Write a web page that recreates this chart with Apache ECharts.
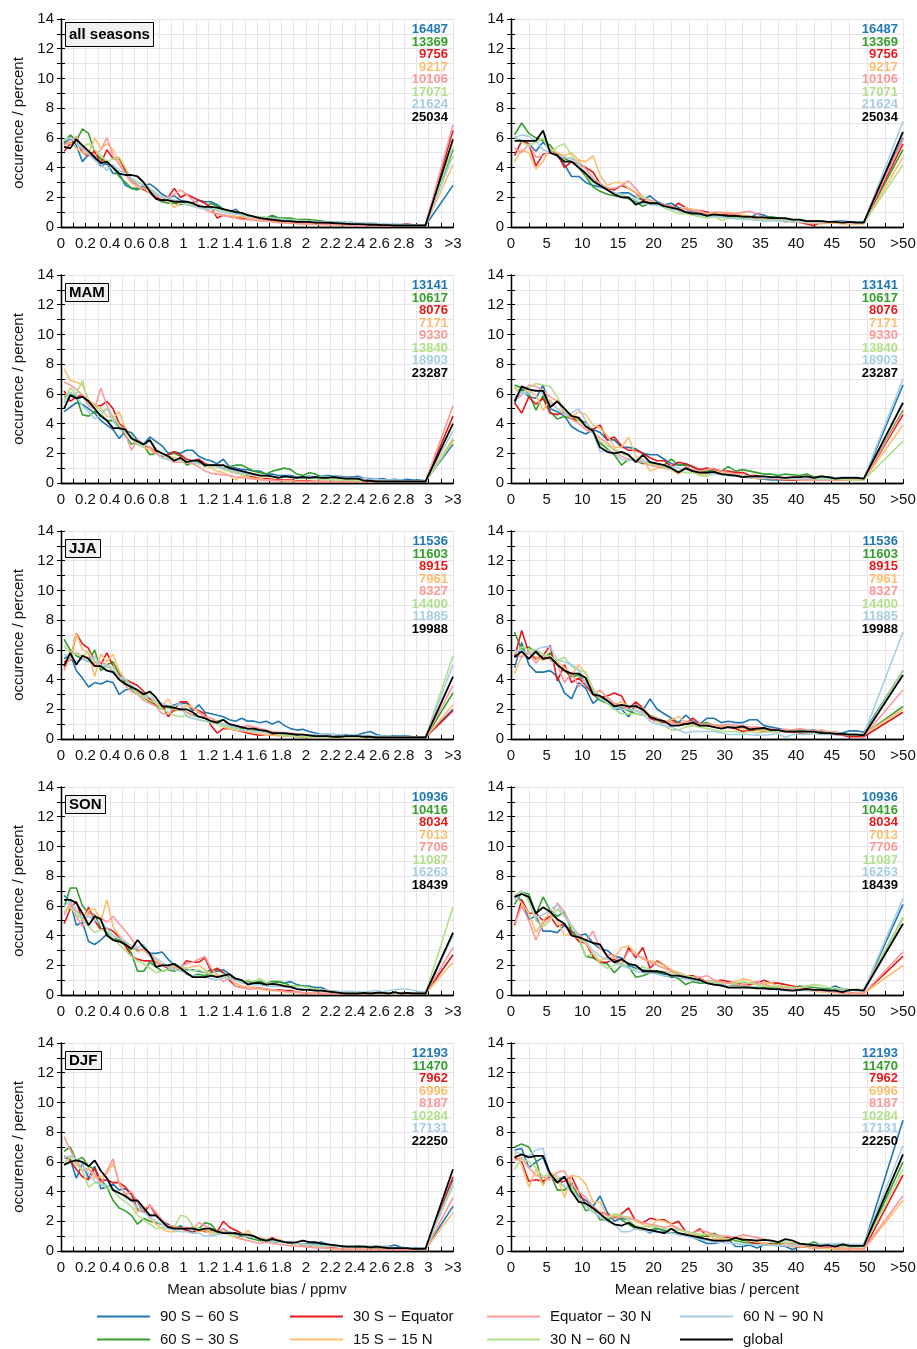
<!DOCTYPE html>
<html>
<head>
<meta charset="utf-8">
<script src="https://cdn.jsdelivr.net/npm/echarts@6/dist/echarts.min.js"></script>
<style>
  html, body { margin: 0; padding: 0; background: #fff; }
  #main { width: 917px; height: 1349px; }
</style>
</head>
<body>
<div id="main"></div>
<script>
// regions, in drawing order (global last, on top)
const regions = ['90 S \u2212 60 S', '60 S \u2212 30 S', '30 S \u2212 Equator', '15 S \u2212 15 N',
                 'Equator \u2212 30 N', '30 N \u2212 60 N', '60 N \u2212 90 N', 'global'];
const colors = ['#1f78b4', '#33a02c', '#e31a1c', '#fdbf6f', '#fb9a99', '#b2df8a', '#a6cee3', '#000000'];
const seasons = ['all seasons', 'MAM', 'JJA', 'SON', 'DJF'];

// number of profiles per region (same order as regions)
const countsAll = [16487, 13369, 9756, 9217, 10106, 17071, 21624, 25034];
const countsMAM = [13141, 10617, 8076, 7171, 9330, 13840, 18903, 23287];
const countsJJA = [11536, 11603, 8915, 7961, 8327, 14400, 11885, 19988];
const countsSON = [10936, 10416, 8034, 7013, 7706, 11087, 16263, 18439];
const countsDJF = [12193, 11470, 7962, 6996, 8187, 10284, 17131, 22250];

const absTickLabels = ['0','0.2','0.4','0.6','0.8','1','1.2','1.4','1.6','1.8','2','2.2','2.4','2.6','2.8','3','>3'];
const relTickLabels = ['0','5','10','15','20','25','30','35','40','45','50','>50'];

// bins: absolute bias 0.05 ppmv wide, relative bias 1 percent wide; last value = overflow bin
const absBinWidth = 0.05, absOverflowAt = 3.2;
const relBinWidth = 1, relOverflowAt = 55;

// ---- mean absolute bias, occurrence in percent ----
const absAllSeasons = [
  [5.6,6.0,5.5,4.4,4.9,4.6,4.1,4.3,3.6,3.6, 2.8,2.6,2.6,2.8,2.9,2.6,2.2,2.0,2.1,1.8, 1.7,1.6,1.8,1.7,1.7,1.5,1.2,1.0,1.2,0.8, 0.8,0.7,0.65,0.6,0.7,0.6,0.5,0.5,0.4,0.4, 0.35,0.3,0.3,0.3,0.3,0.3,0.25,0.3,0.25,0.2, 0.2,0.2,0.2,0.15,0.15,0.15,0.15,0.1,0.1,0.1, 2.8],
  [5.7,6.2,5.8,6.6,6.3,5.0,4.6,4.4,4.0,3.4, 3.0,2.6,2.5,2.7,2.3,1.9,1.7,1.6,1.6,1.5, 1.6,1.5,1.4,1.3,1.6,1.4,1.2,1.0,1.0,0.9, 0.8,0.7,0.6,0.6,0.8,0.6,0.6,0.6,0.5,0.5, 0.5,0.45,0.4,0.35,0.3,0.3,0.3,0.3,0.25,0.25, 0.2,0.2,0.2,0.15,0.15,0.1,0.1,0.1,0.1,0.1, 5.2],
  [5.1,5.6,5.9,5.0,4.8,5.1,4.3,5.2,4.6,4.6, 3.8,3.2,2.8,2.5,2.3,2.0,1.8,2.0,2.6,2.0, 2.2,2.0,1.8,1.6,1.3,0.6,0.8,0.7,0.7,0.6, 0.5,0.5,0.5,0.45,0.4,0.35,0.3,0.3,0.3,0.25, 0.25,0.2,0.2,0.2,0.2,0.15,0.15,0.15,0.15,0.1, 0.1,0.1,0.1,0.1,0.1,0.15,0.2,0.15,0.1,0.1, 6.5],
  [5.5,5.7,5.3,5.0,4.9,6.0,5.3,5.6,5.2,4.4, 3.5,3.0,2.7,2.6,2.3,2.1,2.0,1.8,1.3,1.6, 1.6,1.5,1.3,1.2,1.0,0.9,0.8,0.75,0.7,0.7, 0.6,0.5,0.5,0.4,0.35,0.3,0.3,0.25,0.2,0.2, 0.2,0.2,0.15,0.15,0.15,0.15,0.1,0.1,0.1,0.1, 0.1,0.1,0.1,0.1,0.1,0.1,0.1,0.1,0.1,0.1, 4.2],
  [5.5,5.8,6.1,5.3,5.0,4.8,5.2,6.0,4.8,4.2, 3.6,3.0,2.8,2.6,2.4,2.1,2.0,2.0,2.2,2.5, 2.2,1.8,1.5,1.2,1.0,0.9,0.8,0.7,0.6,0.5, 0.5,0.45,0.4,0.4,0.35,0.3,0.3,0.25,0.25,0.2, 0.2,0.2,0.2,0.15,0.15,0.15,0.15,0.1,0.1,0.1, 0.1,0.1,0.1,0.1,0.1,0.1,0.1,0.1,0.1,0.1, 6.9],
  [5.8,6.0,5.7,5.4,5.6,5.2,4.8,4.4,4.6,4.7, 4.0,3.2,2.9,3.0,2.6,2.3,2.0,1.9,1.8,1.7, 1.6,1.5,1.4,1.3,1.2,1.2,1.1,1.0,0.9,0.9, 0.8,0.7,0.7,0.65,0.6,0.55,0.5,0.5,0.45,0.4, 0.4,0.35,0.35,0.3,0.3,0.3,0.25,0.3,0.25,0.2, 0.2,0.2,0.2,0.15,0.15,0.15,0.15,0.1,0.1,0.1, 5.4],
  [5.9,6.0,5.7,5.2,4.9,4.5,4.2,3.8,4.2,3.8, 3.6,3.3,3.0,2.8,2.5,2.2,2.0,1.9,1.8,1.6, 1.5,1.4,1.3,1.2,1.2,1.1,1.0,0.9,0.9,0.8, 0.7,0.7,0.6,0.6,0.55,0.5,0.5,0.45,0.4,0.4, 0.4,0.35,0.35,0.35,0.3,0.35,0.3,0.3,0.3,0.25, 0.3,0.25,0.2,0.2,0.2,0.2,0.15,0.15,0.15,0.15, 4.8],
  [5.4,5.3,5.9,5.5,5.1,4.7,4.3,4.4,4.0,3.6, 3.5,3.5,3.4,3.0,2.4,1.9,1.8,1.8,1.7,1.7, 1.7,1.6,1.4,1.35,1.35,1.3,1.2,1.1,1.0,0.95, 0.8,0.7,0.6,0.55,0.5,0.45,0.4,0.4,0.35,0.35, 0.35,0.3,0.3,0.3,0.27,0.25,0.22,0.2,0.2,0.18, 0.15,0.15,0.12,0.12,0.1,0.1,0.1,0.1,0.1,0.1, 5.9]
];
const absMAM = [
  [4.8,5.1,5.4,5.3,5.0,4.7,4.2,3.9,3.6,3.0, 3.5,3.4,2.9,2.6,3.1,2.8,2.5,2.0,2.1,2.0, 2.2,2.2,1.8,1.6,1.5,1.3,1.6,1.1,1.0,0.9, 0.9,0.8,0.8,0.6,0.6,0.5,0.5,0.5,0.4,0.4, 0.45,0.4,0.45,0.5,0.45,0.45,0.4,0.4,0.45,0.3, 0.3,0.25,0.3,0.2,0.25,0.2,0.25,0.2,0.2,0.15, 2.6],
  [5.8,6.0,5.8,4.6,4.5,4.8,4.6,4.2,4.2,3.8, 3.2,2.6,2.8,2.5,1.9,2.0,1.9,1.9,2.0,1.8, 1.2,1.4,1.4,1.1,1.2,1.2,1.0,1.1,1.2,1.2, 1.0,0.8,0.7,0.6,0.8,0.9,1.0,0.9,0.6,0.5, 0.7,0.6,0.4,0.4,0.35,0.3,0.25,0.2,0.2,0.15, 0.15,0.15,0.1,0.1,0.1,0.1,0.1,0.1,0.1,0.1, 2.9],
  [6.2,5.5,5.8,5.9,5.4,5.2,5.2,5.5,5.0,4.0, 3.7,3.1,2.6,2.5,2.4,2.1,1.8,1.9,2.1,1.9, 1.6,1.5,1.6,1.3,1.2,1.1,1.0,0.8,0.7,0.6, 0.5,0.4,0.3,0.3,0.25,0.2,0.2,0.2,0.15,0.15, 0.15,0.1,0.1,0.1,0.1,0.1,0.1,0.1,0.1,0.1, 0.1,0.1,0.1,0.1,0.1,0.1,0.1,0.1,0.1,0.1, 4.5],
  [7.7,6.9,6.8,6.6,5.6,5.3,5.0,4.5,4.4,4.8, 3.7,3.0,2.6,2.4,2.2,2.0,1.9,1.8,1.7,1.6, 1.5,1.4,1.3,1.2,1.0,0.8,0.7,0.5,0.2,0.5, 0.4,0.3,0.3,0.2,0.2,0.15,0.15,0.15,0.1,0.1, 0.1,0.1,0.1,0.1,0.1,0.1,0.1,0.1,0.1,0.1, 0.1,0.1,0.1,0.1,0.1,0.1,0.1,0.1,0.1,0.1, 3.0],
  [6.8,6.6,6.3,5.9,5.2,5.0,6.4,5.2,4.4,3.9, 3.3,2.2,2.9,2.6,2.4,2.0,1.7,1.6,1.4,1.4, 1.4,1.3,1.1,0.8,0.65,0.6,0.55,0.5,0.4,0.35, 0.3,0.25,0.2,0.2,0.15,0.15,0.1,0.1,0.1,0.1, 0.1,0.1,0.1,0.1,0.1,0.1,0.1,0.1,0.1,0.1, 0.1,0.1,0.1,0.1,0.1,0.1,0.1,0.1,0.1,0.1, 5.2],
  [5.6,6.4,6.0,6.9,5.3,5.2,4.8,5.0,4.4,3.9, 3.5,3.2,2.6,2.4,2.9,2.3,1.9,1.7,1.6,1.5, 1.4,1.4,1.3,1.2,1.1,1.1,0.9,0.8,0.7,0.6, 0.55,0.5,0.5,0.45,0.4,0.35,0.4,0.35,0.3,0.3, 0.3,0.3,0.25,0.25,0.2,0.2,0.2,0.2,0.15,0.15, 0.15,0.1,0.1,0.1,0.1,0.1,0.1,0.1,0.1,0.1, 2.8],
  [5.4,6.1,5.9,5.2,4.8,4.3,4.6,5.0,4.2,3.6, 3.5,3.0,2.7,2.5,2.8,2.3,1.7,1.6,1.5,1.6, 1.5,1.4,1.3,1.2,1.2,1.1,1.0,0.9,0.8,0.7, 0.6,0.55,0.5,0.5,0.45,0.4,0.4,0.4,0.35,0.35, 0.4,0.35,0.4,0.4,0.35,0.4,0.35,0.3,0.3,0.3, 0.25,0.25,0.2,0.2,0.2,0.2,0.15,0.15,0.15,0.15, 3.5],
  [5.0,5.9,5.7,5.8,5.5,5.0,4.5,4.2,3.7,3.7, 3.6,3.0,2.8,2.6,2.9,2.2,2.0,1.8,1.5,1.7, 1.4,1.5,1.5,1.2,1.2,1.2,1.2,1.0,0.9,0.8, 0.7,0.6,0.5,0.5,0.45,0.35,0.45,0.4,0.35,0.4, 0.35,0.4,0.35,0.35,0.4,0.35,0.3,0.3,0.3,0.15, 0.15,0.1,0.1,0.1,0.1,0.1,0.1,0.1,0.1,0.1, 4.0]
];
const absJJA = [
  [5.4,5.7,4.6,4.1,3.5,3.8,3.7,3.9,3.8,3.0, 3.3,3.4,3.0,2.8,2.6,2.4,2.2,2.1,2.3,2.4, 2.4,1.9,2.3,1.8,1.7,1.6,1.5,1.3,1.2,1.4, 1.2,1.2,1.1,1.2,1.0,1.2,0.9,0.7,0.6,0.65, 0.5,0.4,0.3,0.3,0.3,0.25,0.3,0.25,0.3,0.4, 0.5,0.3,0.2,0.2,0.2,0.2,0.2,0.15,0.15,0.15, 2.0],
  [6.7,6.0,5.6,5.4,5.2,6.0,4.6,5.0,5.2,4.4, 3.8,3.4,3.2,2.8,2.5,2.3,2.0,2.2,1.9,2.0, 1.8,1.6,1.5,1.4,1.2,1.2,1.3,0.9,0.8,0.7, 0.6,0.6,0.5,0.5,0.4,0.35,0.3,0.3,0.25,0.1, 0.2,0.2,0.15,0.15,0.1,0.1,0.15,0.15,0.1,0.1, 0.1,0.1,0.1,0.1,0.1,0.1,0.1,0.1,0.1,0.1, 3.1],
  [5.2,5.3,7.1,6.4,6.1,5.2,5.0,5.8,4.9,4.3, 4.0,3.8,3.6,3.2,2.7,2.3,2.3,1.5,2.0,2.5, 2.5,2.0,1.9,1.7,0.9,0.4,0.7,0.7,0.6,0.5, 0.4,0.3,0.25,0.3,0.3,0.25,0.2,0.2,0.15,0.15, 0.1,0.1,0.1,0.1,0.1,0.1,0.1,0.1,0.1,0.1, 0.1,0.1,0.1,0.1,0.1,0.1,0.1,0.1,0.1,0.1, 1.9],
  [4.8,5.4,7.1,6.0,5.8,4.2,5.7,5.2,5.7,4.6, 4.0,3.6,3.2,2.8,2.6,2.4,2.2,2.7,2.0,1.9, 2.3,2.1,1.8,1.5,1.2,1.0,0.8,0.7,0.6,0.55, 0.5,0.4,0.35,0.3,0.25,0.2,0.2,0.2,0.15,0.15, 0.1,0.1,0.1,0.1,0.1,0.1,0.1,0.1,0.1,0.1, 0.15,0.1,0.1,0.2,0.1,0.1,0.1,0.1,0.1,0.1, 2.3],
  [4.6,5.6,5.8,5.6,5.5,5.0,5.2,5.0,4.5,4.0, 3.6,3.2,3.0,2.6,2.4,2.2,1.7,1.7,2.1,2.0, 1.8,1.6,1.8,1.5,1.4,1.2,1.0,0.9,0.9,0.8, 0.9,0.8,0.7,0.6,0.5,0.45,0.4,0.4,0.35,0.3, 0.25,0.2,0.2,0.2,0.15,0.15,0.1,0.1,0.1,0.1, 0.1,0.1,0.1,0.1,0.1,0.1,0.1,0.1,0.1,0.1, 3.6],
  [6.3,5.8,5.7,5.6,5.9,5.2,5.0,4.8,4.9,4.2, 4.0,3.5,3.0,2.8,3.1,2.4,2.0,1.8,1.6,1.5, 1.6,1.4,1.3,1.2,1.1,1.0,0.9,0.8,0.7,0.6, 0.6,0.5,0.5,0.45,0.4,0.3,0.2,0.2,0.15,0.15, 0.15,0.1,0.1,0.1,0.1,0.1,0.1,0.1,0.1,0.1, 0.1,0.1,0.1,0.1,0.1,0.1,0.1,0.1,0.1,0.1, 5.6],
  [5.7,5.5,5.2,5.4,5.2,5.6,4.8,5.0,4.6,4.2, 4.0,3.6,3.3,3.0,2.8,2.6,2.4,2.2,2.2,2.4, 1.5,1.4,1.3,1.2,1.2,1.1,1.0,0.9,0.8,0.6, 0.6,0.5,0.5,0.45,0.4,0.4,0.35,0.35,0.3,0.3, 0.3,0.3,0.3,0.35,0.3,0.3,0.25,0.3,0.25,0.25, 0.2,0.2,0.2,0.15,0.15,0.15,0.15,0.1,0.1,0.1, 5.0],
  [4.9,5.8,5.0,5.6,5.4,4.9,4.9,4.6,4.5,4.0, 3.7,3.5,3.3,3.0,3.2,2.8,2.2,2.2,2.1,2.0, 2.0,1.8,1.5,1.4,1.2,1.1,1.3,1.0,0.9,0.8, 0.7,0.7,0.6,0.55,0.4,0.4,0.4,0.35,0.3,0.3, 0.25,0.2,0.2,0.2,0.15,0.15,0.2,0.2,0.2,0.15, 0.15,0.1,0.1,0.1,0.1,0.1,0.1,0.1,0.1,0.1, 4.2]
];
const absSON = [
  [6.7,6.3,4.7,4.9,3.6,3.4,3.7,4.1,3.8,3.7, 3.6,3.2,3.0,3.1,2.8,2.8,2.9,2.4,2.0,1.9, 1.7,1.7,1.6,1.5,1.7,1.6,1.7,1.4,1.1,1.0, 0.8,0.9,0.9,0.8,0.8,0.9,0.8,0.9,0.7,0.6, 0.6,0.5,0.5,0.3,0.25,0.2,0.2,0.15,0.2,0.15, 0.15,0.1,0.15,0.1,0.1,0.15,0.1,0.1,0.1,0.1, 2.7],
  [5.9,7.2,7.2,6.0,5.5,5.4,4.5,4.2,3.8,3.7, 3.5,2.8,1.6,1.6,2.2,1.9,1.6,1.7,1.6,1.8, 1.4,1.3,1.4,1.3,1.5,1.7,1.5,1.2,1.0,0.9, 0.9,0.8,0.9,0.8,0.9,0.9,0.8,0.6,0.6,0.6, 0.5,0.4,0.3,0.25,0.2,0.2,0.15,0.1,0.1,0.1, 0.1,0.1,0.1,0.1,0.1,0.1,0.1,0.1,0.1,0.1, 4.1],
  [4.8,5.8,6.3,5.0,5.9,5.0,4.4,4.5,4.3,3.9, 3.3,2.6,2.4,2.3,2.3,2.2,2.0,1.8,1.9,1.8, 2.3,2.2,2.2,2.5,1.6,1.8,1.5,1.0,0.6,0.5, 0.5,0.5,0.45,0.4,0.3,0.35,0.3,0.3,0.2,0.15, 0.1,0.1,0.1,0.1,0.1,0.1,0.1,0.1,0.1,0.1, 0.1,0.1,0.1,0.1,0.1,0.1,0.1,0.1,0.1,0.1, 2.7],
  [5.6,6.0,5.6,5.1,5.7,5.8,5.0,6.4,4.6,4.0, 3.6,3.2,2.9,3.1,2.6,2.4,2.0,1.9,1.9,1.7, 1.8,1.9,2.0,1.7,1.4,1.3,1.2,1.1,0.8,0.6, 0.5,0.5,0.4,0.3,0.3,0.25,0.2,0.2,0.15,0.15, 0.1,0.1,0.1,0.1,0.1,0.1,0.1,0.1,0.1,0.1, 0.1,0.1,0.1,0.1,0.1,0.1,0.1,0.1,0.1,0.1, 2.2],
  [5.4,6.2,5.3,4.6,5.5,5.3,5.2,4.9,5.3,4.8, 4.3,3.8,3.1,3.0,2.7,2.2,2.0,1.9,1.8,1.9, 2.1,2.2,2.4,2.6,1.8,1.4,0.9,1.2,0.6,0.5, 0.4,0.4,0.45,0.4,0.35,0.3,0.25,0.2,0.2,0.15, 0.1,0.1,0.1,0.1,0.1,0.1,0.1,0.1,0.1,0.1, 0.1,0.1,0.1,0.1,0.1,0.1,0.1,0.1,0.1,0.1, 3.2],
  [5.6,5.9,5.4,5.1,4.6,4.2,4.4,4.3,3.8,3.4, 3.0,2.6,2.3,2.1,1.8,1.5,1.6,1.7,2.1,1.9, 1.8,1.6,1.7,1.5,1.4,1.2,1.4,1.1,1.0,0.9, 1.0,0.9,1.1,0.8,0.8,0.7,0.65,0.6,0.6,0.55, 0.5,0.4,0.35,0.3,0.25,0.2,0.2,0.15,0.15,0.15, 0.15,0.1,0.1,0.1,0.1,0.1,0.1,0.1,0.1,0.1, 5.9],
  [6.0,6.3,5.7,5.2,5.3,5.0,4.9,4.5,4.0,3.8, 3.6,3.3,3.2,3.4,2.8,2.5,2.2,1.9,1.7,1.6, 1.5,1.3,1.3,1.2,1.1,1.0,1.2,1.1,1.0,0.8, 0.8,0.7,0.7,0.6,0.6,0.6,0.55,0.5,0.45,0.4, 0.35,0.3,0.3,0.3,0.25,0.25,0.25,0.25,0.2,0.2, 0.25,0.3,0.2,0.3,0.35,0.4,0.4,0.3,0.25,0.2, 4.0],
  [6.4,6.4,6.2,5.5,4.7,5.3,5.1,4.0,3.7,3.6, 3.4,3.1,3.7,3.2,2.8,1.9,2.0,2.0,2.1,1.8, 1.5,1.2,1.2,1.2,1.3,1.2,1.3,1.4,1.1,1.0, 0.7,0.8,0.8,0.7,0.75,0.7,0.6,0.55,0.4,0.35, 0.35,0.3,0.3,0.25,0.2,0.15,0.1,0.1,0.1,0.15, 0.1,0.15,0.15,0.1,0.2,0.1,0.15,0.1,0.1,0.1, 4.2]
];
const absDJF = [
  [6.3,6.2,4.9,5.9,4.9,5.7,4.2,4.3,4.5,4.1, 4.2,3.8,3.3,2.6,2.4,2.4,2.0,1.8,1.5,1.7, 1.4,1.3,1.5,1.4,1.3,1.2,1.5,1.2,1.1,1.0, 1.0,0.8,0.8,0.7,0.8,0.7,0.6,0.6,0.5,0.45, 0.45,0.5,0.6,0.45,0.4,0.35,0.3,0.3,0.35,0.3, 0.3,0.3,0.3,0.3,0.4,0.25,0.2,0.2,0.15,0.15, 3.0],
  [6.7,7.0,6.1,6.3,5.7,5.5,4.8,4.3,3.4,2.9, 2.7,2.4,1.8,2.2,2.0,1.9,1.8,1.7,1.6,1.6, 1.5,1.6,1.5,1.9,1.8,1.3,1.3,1.2,1.2,1.1, 0.9,0.8,0.7,0.7,0.65,0.6,0.6,0.55,0.5,0.45, 0.45,0.4,0.4,0.35,0.35,0.3,0.3,0.3,0.25,0.25, 0.2,0.2,0.2,0.15,0.15,0.15,0.1,0.1,0.1,0.1, 4.8],
  [6.4,6.1,5.5,5.0,4.8,5.6,4.7,4.8,4.6,4.6, 4.3,3.8,2.8,2.6,3.1,2.4,2.0,1.7,1.6,1.5, 1.4,1.2,1.5,1.3,1.4,1.3,2.0,1.6,1.4,1.2, 1.0,0.9,0.8,0.7,0.9,0.7,0.6,0.5,0.45,0.4, 0.35,0.3,0.25,0.2,0.2,0.15,0.1,0.1,0.1,0.1, 0.1,0.1,0.1,0.1,0.1,0.1,0.1,0.1,0.1,0.1, 5.0],
  [6.3,6.4,6.2,5.4,5.6,4.9,5.0,5.2,5.9,4.6, 3.8,3.5,2.6,2.9,2.2,1.8,1.5,1.3,1.3,1.5, 1.6,1.5,1.3,1.4,1.1,1.2,1.3,1.1,0.9,0.8, 1.4,0.9,0.9,0.8,0.7,0.8,0.6,0.5,0.45,0.4, 0.35,0.3,0.25,0.2,0.1,0.1,0.1,0.1,0.1,0.1, 0.1,0.1,0.1,0.1,0.1,0.1,0.1,0.1,0.1,0.1, 2.6],
  [7.7,6.8,6.0,5.4,5.5,5.2,4.5,5.4,6.2,4.5, 3.8,4.0,3.3,2.8,3.1,2.6,2.1,1.7,1.7,1.5, 1.6,1.5,1.9,1.7,1.5,1.2,1.5,1.3,1.0,0.8, 0.7,0.6,0.5,0.6,0.5,0.45,0.4,0.35,0.3,0.3, 0.25,0.2,0.2,0.2,0.15,0.15,0.1,0.1,0.1,0.1, 0.1,0.1,0.1,0.1,0.1,0.1,0.1,0.1,0.1,0.1, 3.6],
  [5.9,6.3,5.8,5.4,4.3,4.6,4.5,4.2,4.1,3.6, 3.3,3.0,2.4,2.1,1.8,1.5,1.6,1.5,1.6,2.4, 2.3,1.7,1.5,1.5,1.3,1.2,1.2,1.1,1.0,1.2, 1.0,0.9,0.8,0.8,0.7,0.65,0.6,0.5,0.45,0.45, 0.4,0.35,0.3,0.35,0.4,0.3,0.3,0.35,0.3,0.3, 0.3,0.3,0.25,0.25,0.2,0.2,0.2,0.15,0.15,0.15, 4.4],
  [6.3,6.4,6.2,5.8,5.2,4.7,4.5,4.4,4.2,3.9, 3.6,3.4,2.9,2.6,2.3,2.0,1.8,1.5,1.4,1.3, 1.3,1.2,1.2,1.0,1.0,1.1,1.2,1.3,1.2,1.1, 1.0,0.9,0.8,0.7,0.7,0.6,0.6,0.55,0.5,0.45, 0.4,0.4,0.35,0.35,0.3,0.35,0.3,0.3,0.3,0.3, 0.3,0.3,0.25,0.25,0.2,0.2,0.2,0.25,0.2,0.2, 4.6],
  [5.8,6.0,6.1,6.0,5.7,6.1,5.4,4.9,4.1,3.9, 3.7,3.4,3.4,2.9,2.4,2.4,2.0,1.6,1.5,1.5, 1.5,1.5,1.4,1.5,1.5,1.3,1.2,1.2,1.2,1.1, 1.1,1.0,0.8,0.7,0.8,0.7,0.6,0.55,0.6,0.7, 0.6,0.6,0.5,0.45,0.4,0.35,0.3,0.3,0.3,0.3, 0.25,0.3,0.25,0.2,0.2,0.2,0.2,0.15,0.15,0.15, 5.5]
];

// ---- mean relative bias, occurrence in percent ----
const relAllSeasons = [
  [6.0,5.8,5.6,5.1,5.7,5.2,4.8,4.2,3.4,3.4, 3.0,2.8,2.7,2.5,2.2,2.3,2.3,2.0,1.8,2.1, 1.7,1.5,1.6,1.3,1.2,1.0,0.9,0.8,0.8,0.7, 0.7,0.7,0.7,0.6,0.9,0.8,0.6,0.6,0.5,0.4, 0.4,0.4,0.35,0.3,0.3,0.4,0.4,0.35,0.35,0.35, 6.0],
  [6.2,7.0,6.3,6.0,5.8,5.5,4.9,4.6,4.4,4.0, 3.4,2.7,2.4,2.2,2.1,2.0,1.9,1.7,1.4,1.6, 1.5,1.5,1.4,1.1,1.0,0.9,0.8,0.8,0.8,0.7, 0.7,0.7,0.6,0.6,0.6,0.6,0.7,0.6,0.5,0.5, 0.45,0.4,0.4,0.4,0.35,0.35,0.3,0.35,0.3,0.3, 5.2],
  [4.8,5.8,5.6,4.1,4.9,5.0,4.9,4.0,4.4,4.2, 4.0,3.7,2.9,2.6,2.5,2.8,2.6,2.3,1.8,1.6, 1.5,1.5,1.2,1.6,1.3,1.1,1.1,1.0,0.9,0.9, 0.8,0.8,0.7,0.6,0.6,0.5,0.5,0.45,0.35,0.4, 0.3,0.2,0.1,0.3,0.3,0.3,0.3,0.25,0.25,0.25, 5.6],
  [4.4,5.2,5.0,3.9,4.4,5.3,5.0,4.8,5.0,4.5, 4.4,4.8,3.5,2.8,3.0,3.0,2.6,2.3,2.0,1.8, 1.6,1.4,1.4,1.2,1.3,1.2,1.0,0.9,0.9,0.9, 1.0,0.9,0.8,0.7,0.6,0.6,0.5,0.45,0.4,0.35, 0.3,0.3,0.25,0.2,0.25,0.25,0.2,0.2,0.2,0.2, 4.7],
  [5.3,5.0,5.6,4.7,4.8,5.1,4.8,4.7,4.6,4.4, 3.9,3.3,2.9,2.6,2.6,2.8,3.1,2.6,2.0,1.8, 1.6,1.5,1.4,1.2,1.2,1.1,1.1,0.9,1.0,1.0, 0.9,0.9,1.0,1.05,0.9,0.6,0.5,0.45,0.4,0.35, 0.3,0.3,0.3,0.25,0.3,0.3,0.3,0.25,0.25,0.25, 5.9],
  [6.1,5.7,5.5,5.7,6.0,5.0,5.4,5.6,4.8,4.3, 3.5,3.0,2.8,2.5,2.3,2.2,2.0,1.9,2.1,1.7, 1.5,1.3,1.1,0.9,0.9,0.8,0.7,0.6,0.7,0.45, 0.6,0.6,0.6,0.55,0.5,0.5,0.5,0.45,0.45,0.4, 0.4,0.35,0.35,0.3,0.35,0.3,0.3,0.3,0.3,0.25, 4.2],
  [6.0,6.2,6.1,5.8,5.2,5.0,4.8,4.7,4.6,4.2, 3.6,3.2,2.8,2.5,2.3,2.1,2.0,1.8,1.6,1.5, 1.5,1.4,1.2,1.1,1.0,0.9,0.8,0.75,0.7,0.7, 0.6,0.55,0.5,0.5,0.45,0.4,0.4,0.4,0.4,0.35, 0.35,0.3,0.35,0.3,0.35,0.4,0.35,0.3,0.3,0.3, 7.1],
  [5.8,5.8,5.8,5.8,6.5,5.0,4.8,4.4,4.4,4.0, 3.6,3.1,2.8,2.5,2.2,2.0,2.0,1.5,1.7,1.6, 1.6,1.4,1.3,1.2,1.0,0.9,0.9,0.75,0.85,0.8, 0.75,0.75,0.7,0.7,0.65,0.65,0.6,0.6,0.6,0.5, 0.5,0.4,0.4,0.4,0.35,0.35,0.3,0.35,0.3,0.3, 6.4]
];
const relMAM = [
  [5.4,6.3,5.8,5.7,6.6,5.0,4.8,4.5,3.8,3.5, 3.3,3.6,3.4,2.9,2.9,2.4,2.4,2.3,2.0,1.9, 1.9,1.6,1.3,1.2,1.3,1.1,0.9,0.8,0.7,0.6, 0.5,0.5,0.4,0.35,0.3,0.25,0.2,0.2,0.25,0.2, 0.2,0.25,0.2,0.25,0.2,0.3,0.35,0.3,0.3,0.25, 6.6],
  [6.6,6.4,6.0,4.9,5.9,4.8,4.3,4.5,4.3,4.2, 4.1,3.5,2.7,2.3,1.9,1.2,1.6,1.5,1.3,1.4, 1.3,1.2,1.6,1.2,1.2,1.1,0.8,0.8,0.9,0.8, 1.1,0.8,0.9,0.8,0.7,0.6,0.6,0.5,0.6,0.55, 0.5,0.6,0.4,0.45,0.4,0.35,0.3,0.3,0.3,0.25, 4.9],
  [5.4,4.7,5.8,5.3,5.7,4.7,4.6,4.8,4.3,4.3, 3.8,3.6,3.9,2.9,3.1,2.5,2.2,2.2,2.0,1.7, 1.5,1.5,1.1,1.4,1.3,1.1,0.9,1.0,0.9,0.8, 0.8,0.7,0.7,0.5,0.5,0.4,0.3,0.25,0.2,0.2, 0.2,0.2,0.25,0.2,0.2,0.2,0.2,0.2,0.2,0.2, 4.6],
  [6.4,6.0,6.2,5.9,4.9,5.6,5.0,4.8,4.4,4.8, 4.6,3.9,3.7,3.2,2.4,2.4,3.1,1.8,1.6,0.8, 1.0,1.1,0.9,0.6,1.0,0.7,0.6,0.6,0.8,0.7, 0.6,0.5,0.4,0.35,0.3,0.3,0.3,0.3,0.25,0.25, 0.2,0.2,0.2,0.2,0.2,0.2,0.2,0.2,0.2,0.2, 3.9],
  [5.6,5.9,6.6,6.5,6.2,5.8,5.5,4.8,4.3,4.0, 3.6,3.4,3.0,2.7,2.2,1.8,1.6,1.5,1.4,1.2, 1.1,1.0,0.9,0.8,1.1,0.9,0.8,0.9,1.0,0.8, 0.7,0.6,0.5,0.45,0.4,0.35,0.3,0.3,0.3,0.3, 0.25,0.2,0.2,0.2,0.2,0.2,0.25,0.3,0.3,0.2, 4.8],
  [6.5,6.0,6.4,6.7,6.6,6.5,5.8,4.8,4.6,4.2, 3.8,3.4,2.8,2.5,2.3,2.0,1.8,1.6,1.5,1.3, 1.2,1.1,0.9,0.8,0.7,0.7,0.5,0.45,0.7,0.6, 0.55,0.5,0.5,0.45,0.4,0.4,0.35,0.35,0.35,0.3, 0.3,0.3,0.3,0.25,0.25,0.25,0.25,0.2,0.2,0.2, 2.8],
  [5.8,6.1,6.0,6.3,6.0,5.4,5.0,4.6,4.7,5.0, 4.2,3.4,2.1,2.2,2.0,1.6,1.5,1.6,1.5,1.4, 1.3,1.2,1.1,1.0,0.9,0.8,0.7,0.65,0.6,0.55, 0.5,0.45,0.45,0.4,0.4,0.35,0.35,0.3,0.3,0.3, 0.3,0.3,0.3,0.3,0.3,0.35,0.4,0.4,0.4,0.3, 7.0],
  [5.5,6.5,6.3,6.2,6.2,5.1,5.5,5.0,4.5,4.4, 3.8,3.5,2.4,2.1,2.0,2.1,1.9,1.4,1.9,1.4, 1.3,1.2,1.0,0.7,1.0,0.8,0.7,0.7,0.75,0.6, 0.55,0.5,0.4,0.45,0.45,0.45,0.4,0.4,0.35,0.4, 0.4,0.45,0.35,0.45,0.4,0.3,0.35,0.35,0.35,0.3, 5.4]
];
const relJJA = [
  [4.8,6.5,5.0,4.5,4.5,4.6,4.2,3.1,2.7,3.8, 3.4,2.4,2.8,2.5,2.0,2.0,1.5,2.3,1.9,2.7, 2.0,1.7,1.4,1.1,1.6,1.2,1.0,1.4,1.4,1.1, 1.2,1.1,1.1,1.3,1.3,0.9,0.8,0.7,0.6,0.6, 0.6,0.55,0.6,0.5,0.4,0.45,0.4,0.55,0.55,0.45, 4.6],
  [7.2,6.0,6.2,5.8,5.4,5.8,5.0,4.6,4.2,4.3, 3.8,3.0,2.6,2.4,2.2,2.1,1.9,1.7,1.6,1.6, 1.4,1.2,1.3,1.1,1.0,1.0,1.0,1.1,0.9,0.9, 0.8,0.8,0.8,0.7,0.7,0.6,0.6,0.6,0.6,0.55, 0.55,0.5,0.5,0.45,0.4,0.4,0.35,0.3,0.3,0.3, 2.2],
  [5.5,7.3,5.8,5.4,5.6,6.3,3.9,5.0,3.8,4.1, 3.6,3.0,2.8,2.9,3.1,2.9,2.0,2.5,2.1,1.4, 1.2,1.1,1.3,1.0,1.0,1.4,1.0,0.9,0.9,0.8, 0.8,0.7,0.5,0.6,0.6,0.5,0.5,0.5,0.5,0.45, 0.4,0.4,0.4,0.35,0.35,0.3,0.25,0.15,0.15,0.15, 1.8],
  [4.4,5.6,5.9,5.5,5.3,5.6,5.2,4.8,4.3,5.0, 4.4,3.3,2.9,2.6,2.3,2.5,2.2,2.1,2.1,1.6, 1.3,1.2,1.3,1.5,1.1,1.0,0.9,0.9,0.9,0.8, 0.8,0.8,0.7,0.7,0.6,0.55,0.5,0.5,0.5,0.5, 0.5,0.45,0.4,0.4,0.4,0.35,0.35,0.3,0.3,0.3, 2.0],
  [5.8,5.5,5.8,5.1,5.7,5.3,5.0,3.8,4.5,3.5, 4.0,3.0,3.3,2.8,2.4,2.2,2.0,1.9,1.8,1.6, 1.4,1.2,1.1,1.0,1.2,1.1,1.0,1.0,0.9,0.9, 1.0,0.9,0.9,0.8,0.8,0.7,0.7,0.6,0.65,0.6, 0.7,0.6,0.55,0.6,0.5,0.45,0.35,0.3,0.3,0.2, 3.3],
  [5.8,6.2,6.0,6.0,5.7,5.5,5.3,5.5,4.9,4.6, 4.5,3.4,2.8,2.4,2.0,1.7,1.7,1.7,1.6,1.6, 1.2,0.9,0.6,0.6,0.8,0.9,0.8,0.7,0.6,0.5, 0.5,0.5,0.4,0.5,0.4,0.45,0.5,0.5,0.5,0.5, 0.45,0.4,0.4,0.4,0.35,0.35,0.3,0.3,0.3,0.3, 4.6],
  [5.9,6.0,5.7,6.0,6.2,6.2,5.3,5.2,5.0,4.7, 3.7,3.2,2.7,2.5,2.2,2.0,2.0,1.9,1.7,1.2, 1.0,0.9,0.8,0.6,0.4,0.5,0.5,0.5,0.5,0.4, 0.3,0.3,0.3,0.3,0.25,0.25,0.3,0.35,0.1,0.3, 0.3,0.3,0.35,0.3,0.3,0.3,0.3,0.35,0.3,0.3, 7.2],
  [5.5,5.9,5.4,5.9,5.4,5.5,5.0,4.6,4.4,4.4, 4.1,3.0,2.9,2.6,2.2,2.3,2.2,2.2,2.0,1.5, 1.3,1.2,0.9,0.9,1.0,1.1,0.9,0.9,0.8,0.7, 0.8,0.75,0.85,0.65,0.7,0.75,0.6,0.6,0.5,0.5, 0.5,0.5,0.5,0.4,0.4,0.35,0.35,0.3,0.3,0.25, 4.3]
];
const relSON = [
  [6.6,6.4,5.1,5.3,4.3,4.3,4.2,4.7,4.3,4.0, 4.1,3.5,3.1,3.0,2.6,2.5,2.0,1.8,1.7,1.6, 1.6,1.4,1.2,1.2,1.1,1.3,1.0,0.9,0.8,0.7, 0.6,0.6,0.55,0.5,0.5,0.45,0.4,0.35,0.3,0.3, 0.35,0.35,0.3,0.3,0.4,0.6,0.4,0.35,0.3,0.3, 6.1],
  [6.1,6.9,6.8,5.4,6.6,5.7,5.3,5.6,4.3,3.8, 2.6,2.5,2.2,2.1,1.5,2.0,1.9,1.2,1.3,1.5, 1.5,1.3,1.3,1.1,0.7,0.9,0.8,0.8,0.7,0.6, 0.6,0.6,0.55,0.5,0.5,0.5,0.5,0.5,0.5,0.5, 0.6,0.55,0.5,0.45,0.4,0.35,0.3,0.35,0.35,0.35, 5.2],
  [4.7,6.4,5.5,5.5,5.0,5.3,4.6,4.8,4.2,3.6, 3.5,2.6,2.2,2.2,2.4,2.0,3.2,2.5,3.2,1.8, 2.3,2.0,1.6,1.5,1.3,1.3,1.1,0.9,0.9,1.0, 0.9,0.8,0.7,0.7,0.8,1.0,0.8,0.8,0.7,0.6, 0.5,0.4,0.35,0.3,0.25,0.2,0.15,0.15,0.1,0.1, 2.6],
  [6.6,6.2,5.5,4.2,5.0,5.6,5.0,4.0,4.1,3.8, 3.5,2.8,2.3,2.5,2.5,3.2,3.3,2.8,2.4,2.3, 2.2,2.0,1.7,1.5,1.3,1.2,1.0,0.9,0.9,0.8, 0.8,0.9,1.1,1.0,0.7,0.8,0.8,0.6,0.6,0.5, 0.4,0.3,0.25,0.2,0.2,0.15,0.15,0.1,0.1,0.1, 2.0],
  [4.8,6.0,5.0,3.7,4.8,5.2,6.2,5.6,4.6,4.1, 3.6,4.3,3.1,2.7,2.7,2.0,3.0,2.7,2.5,2.2, 2.0,1.8,1.6,1.4,1.3,1.2,1.2,1.3,1.0,0.9, 0.8,0.7,0.7,0.8,0.9,0.7,0.6,0.5,0.5,0.45, 0.4,0.35,0.3,0.3,0.25,0.2,0.15,0.15,0.1,0.1, 2.9],
  [6.7,7.0,6.3,5.0,4.6,5.0,5.8,5.3,4.6,3.9, 2.6,2.8,2.1,1.8,2.0,2.2,1.8,1.7,1.9,1.7, 1.6,1.6,1.5,1.4,1.3,1.2,1.0,0.8,0.9,0.7, 0.6,0.8,0.9,0.8,0.7,0.6,0.55,0.6,0.55,0.5, 0.5,0.6,0.7,0.65,0.5,0.45,0.4,0.35,0.4,0.35, 5.2],
  [6.4,6.9,6.6,5.2,5.4,5.7,6.1,5.3,4.7,3.9, 3.6,3.0,2.6,2.4,2.2,2.0,1.8,1.6,1.5,1.5, 1.4,1.3,1.3,1.2,1.1,1.0,0.9,0.8,0.75,0.7, 0.6,0.55,0.5,0.45,0.45,0.4,0.4,0.35,0.35,0.3, 0.3,0.3,0.3,0.3,0.3,0.3,0.3,0.3,0.3,0.3, 6.5],
  [6.6,6.8,6.6,5.5,5.9,5.6,5.1,4.8,4.0,3.9, 3.7,3.5,3.4,2.6,2.2,2.4,2.1,2.0,1.6,1.6, 1.6,1.5,1.3,1.3,1.2,1.1,1.0,0.8,0.7,0.65, 0.5,0.5,0.5,0.5,0.45,0.45,0.4,0.4,0.35,0.3, 0.35,0.4,0.35,0.35,0.3,0.3,0.2,0.35,0.35,0.3, 4.8]
];
const relDJF = [
  [6.8,6.9,5.6,6.0,6.3,5.0,4.8,5.0,4.3,3.7, 3.4,3.0,3.7,2.6,2.0,2.2,2.1,1.6,1.5,1.2, 1.5,1.4,1.2,1.2,1.1,0.9,0.7,0.5,0.5,0.6, 0.8,0.3,0.3,0.4,0.2,0.4,0.4,0.35,0.3,0.1, 0.3,0.3,0.35,0.35,0.3,0.4,0.35,0.3,0.3,0.35, 8.8],
  [7.0,7.2,7.0,6.1,4.5,5.2,4.1,4.1,4.6,3.6, 2.7,2.9,2.1,2.1,2.3,2.1,1.8,1.5,1.4,1.4, 1.6,1.3,1.2,1.2,1.1,1.0,1.0,1.0,1.2,0.9, 0.8,0.7,0.6,0.5,0.5,0.5,0.5,0.5,0.5,0.5, 0.45,0.4,0.6,0.4,0.35,0.3,0.3,0.3,0.3,0.3, 6.0],
  [6.3,6.0,4.7,4.8,4.7,5.0,4.6,4.7,5.0,4.0, 3.1,2.9,2.6,2.5,2.2,2.5,2.9,2.0,1.9,2.2, 2.1,2.1,1.8,2.0,1.3,1.2,1.5,1.0,1.0,0.9, 0.9,0.8,0.8,0.6,0.5,0.5,0.45,0.4,0.35,0.3, 0.3,0.25,0.2,0.2,0.2,0.15,0.1,0.1,0.1,0.1, 5.1],
  [6.6,5.8,4.3,5.5,4.4,5.3,5.0,3.6,5.1,5.0, 4.5,3.3,3.3,2.3,2.4,2.3,2.3,2.0,1.8,1.6, 2.1,2.0,1.8,1.5,1.3,1.1,1.1,1.2,0.8,0.8, 0.7,0.8,0.9,0.7,0.6,0.5,0.4,0.4,0.35,0.3, 0.3,0.25,0.2,0.2,0.15,0.15,0.1,0.1,0.1,0.1, 3.4],
  [6.1,6.3,5.6,5.1,5.0,4.8,5.3,5.4,4.5,4.0, 3.6,3.0,2.6,2.4,2.2,2.3,2.2,2.1,1.9,1.8, 1.7,1.6,1.7,1.5,1.3,1.2,1.4,1.3,1.1,1.0, 1.0,0.9,1.1,1.0,0.9,0.8,0.7,0.6,0.5,0.45, 0.4,0.4,0.35,0.3,0.3,0.25,0.2,0.2,0.15,0.15, 3.7],
  [5.5,6.2,6.0,5.6,5.0,5.2,4.8,4.3,4.3,3.5, 3.1,2.7,2.3,2.2,2.5,2.4,2.1,1.7,1.6,1.7, 1.6,1.5,1.5,1.4,1.3,1.2,1.1,1.1,1.0,0.9, 0.8,0.8,0.7,0.7,0.7,0.8,0.7,0.6,0.6,0.55, 0.5,0.45,0.4,0.45,0.4,0.35,0.3,0.3,0.3,0.3, 5.5],
  [6.7,6.5,6.4,6.8,6.9,5.0,4.7,4.4,4.0,3.6, 3.0,2.6,2.3,2.0,1.8,1.3,1.3,1.5,1.4,1.3, 1.3,1.2,1.2,1.1,1.0,0.9,0.8,0.7,0.6,0.6, 0.5,0.5,0.45,0.45,0.4,0.4,0.4,0.35,0.35,0.35, 0.4,0.4,0.45,0.45,0.5,0.5,0.5,0.45,0.45,0.45, 7.1],
  [6.3,6.5,6.3,6.4,6.4,5.2,4.6,5.0,4.0,3.3, 3.2,2.9,2.5,2.1,1.8,1.7,1.9,1.6,1.5,1.4, 1.3,1.2,1.5,1.2,1.1,1.0,0.9,0.8,0.7,0.7, 0.7,0.9,0.75,0.75,0.7,0.75,0.7,0.6,0.8,0.7, 0.5,0.45,0.4,0.35,0.4,0.3,0.45,0.35,0.35,0.35, 6.5]
];

const rows = [
  { season: seasons[0], counts: countsAll, abs: absAllSeasons, rel: relAllSeasons },
  { season: seasons[1], counts: countsMAM, abs: absMAM, rel: relMAM },
  { season: seasons[2], counts: countsJJA, abs: absJJA, rel: relJJA },
  { season: seasons[3], counts: countsSON, abs: absSON, rel: relSON },
  { season: seasons[4], counts: countsDJF, abs: absDJF, rel: relDJF }
];

// bin centres for the plotted values, overflow bin drawn at the ">" tick
function toPoints(vals, binWidth, overflowAt) {
  const n = vals.length - 1;
  const pts = vals.slice(0, n).map((v, i) => [binWidth * (i + 0.5), v]);
  pts.push([overflowAt, vals[n]]);
  return pts;
}

var chart = echarts.init(document.getElementById('main'), null, { renderer: 'canvas' });

const FONT = '"Liberation Sans", Arial, Helvetica, sans-serif';
const gridColor = '#e8e3e8';
const plotTops = [19, 275, 531, 787, 1043];
const plotH = 208, plotW = 392;
const plotLefts = [61, 511];

let grids = [], xAxes = [], yAxes = [], series = [], titles = [], graphics = [];

rows.forEach(function (row, r) {
  [0, 1].forEach(function (c) {
    const gi = r * 2 + c;
    const isAbs = c === 0;
    const top = plotTops[r], left = plotLefts[c];
    grids.push({ left: left, top: top, width: plotW, height: plotH, outerBoundsMode: 'none', containLabel: false });

    const xmax = isAbs ? absOverflowAt : relOverflowAt;
    const xint = isAbs ? 0.1 : 2.5;
    xAxes.push({
      type: 'value', gridIndex: gi, position: 'bottom', min: 0, max: xmax, interval: xint,
      axisLine: { show: true, lineStyle: { color: '#000', width: 1.3 } },
      axisTick: { show: false },
      splitLine: { show: true, lineStyle: { color: gridColor, width: 1 } },
      axisLabel: {
        color: '#111', fontSize: 15, fontFamily: FONT, margin: 9, hideOverlap: false,
        formatter: function (v) {
          if (isAbs) {
            const k = Math.round(v * 10);
            return k % 2 === 0 ? (absTickLabels[k / 2] || '') : '';
          }
          const k = Math.round(v / 2.5);
          return k % 2 === 0 ? (relTickLabels[k / 2] || '') : '';
        }
      },
      name: r === 4 ? (isAbs ? 'Mean absolute bias / ppmv' : 'Mean relative bias / percent') : '',
      nameLocation: 'middle', nameGap: 31,
      nameTextStyle: { fontSize: 15, fontFamily: FONT, color: '#111' }
    });
    xAxes.push({
      type: 'value', gridIndex: gi, position: 'top', min: 0, max: xmax, interval: xint,
      axisLine: { show: true, lineStyle: { color: '#000', width: 1.3 } },
      axisTick: { show: true, inside: false, length: 4, lineStyle: { color: '#000' } },
      axisLabel: { show: false }, splitLine: { show: false }
    });
    yAxes.push({
      type: 'value', gridIndex: gi, position: 'left', min: 0, max: 14, interval: 1,
      axisLine: { show: true, lineStyle: { color: '#000', width: 1.3 } },
      axisTick: { show: true, length: 4, lineStyle: { color: '#000' } },
      splitLine: { show: true, lineStyle: { color: gridColor, width: 1 } },
      axisLabel: {
        color: '#111', fontSize: 15, fontFamily: FONT, margin: 7,
        formatter: function (v) { return v % 2 === 0 ? String(v) : ''; }
      },
      name: isAbs ? 'occurence / percent' : '',
      nameLocation: 'middle', nameRotate: 90, nameGap: 35,
      nameTextStyle: { fontSize: 15, fontFamily: FONT, color: '#111' }
    });
    yAxes.push({
      type: 'value', gridIndex: gi, position: 'right', min: 0, max: 14, interval: 1,
      axisLine: { show: true, lineStyle: { color: '#000', width: 1.3 } },
      axisTick: { show: true, length: 4, lineStyle: { color: '#000' } },
      axisLabel: { show: false }, splitLine: { show: false }
    });

    const data = isAbs ? row.abs : row.rel;
    data.forEach(function (vals, s) {
      series.push({
        type: 'line', name: regions[s], xAxisIndex: gi * 2, yAxisIndex: gi * 2,
        data: isAbs ? toPoints(vals, absBinWidth, absOverflowAt) : toPoints(vals, relBinWidth, relOverflowAt),
        symbol: 'none', silent: true, z: s === 7 ? 4 : 3,
        lineStyle: { width: s === 7 ? 1.8 : 1.6, color: colors[s] },
        itemStyle: { color: colors[s] }
      });
    });

    // region counts, top right of each panel
    row.counts.forEach(function (n, s) {
      graphics.push({
        type: 'text', x: left + plotW - 5, y: top + 10.5 + s * 12.5, z: 10,
        style: { text: String(n), fill: colors[s], font: 'bold 13px ' + FONT, textAlign: 'right', textVerticalAlign: 'middle' }
      });
    });
  });

  // season box in the left panel
  const big = r === 0;
  titles.push({
    text: row.season, left: plotLefts[0] + 4, top: plotTops[r] + (big ? 3 : 8),
    backgroundColor: '#f1f1f1', borderColor: '#000', borderWidth: 1,
    padding: big ? [5, 4, 5, 4] : [2, 4, 2, 4],
    textStyle: { fontSize: 15, fontWeight: 'bold', fontFamily: FONT, color: '#000' }
  });
});

// legend: 4 columns of 2 rows
const legendCols = [92, 285, 482, 675];
const legends = legendCols.map(function (x, i) {
  return {
    orient: 'vertical', left: x, top: 1304, height: 80, itemWidth: 53, itemHeight: 2, itemGap: 8,
    icon: 'rect', selectedMode: false, data: [regions[i * 2], regions[i * 2 + 1]],
    textStyle: { fontSize: 15, fontFamily: FONT, color: '#111', padding: [0, 0, 0, 5] }
  };
});

var option = {
  animation: false,
  textStyle: { fontFamily: FONT },
  title: titles,
  legend: legends,
  grid: grids,
  xAxis: xAxes,
  yAxis: yAxes,
  series: series,
  graphic: graphics
};
chart.setOption(option);
</script>
</body>
</html>
